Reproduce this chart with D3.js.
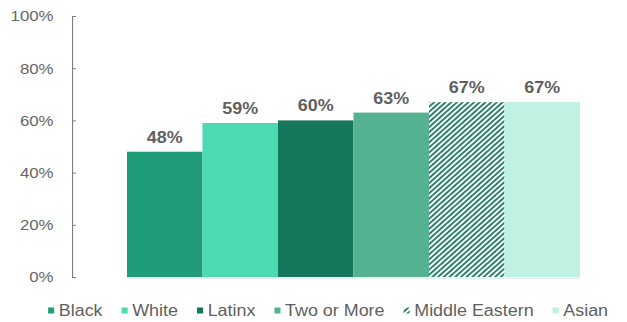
<!doctype html>
<html>
<head>
<meta charset="utf-8">
<style type="text/css">
  body { margin: 0; background: #fff; }
  svg { display: block; font-family: "Liberation Sans", Arial, sans-serif; }
</style>
</head>
<body>
<div id="my_dataviz"></div>

<script src="https://d3js.org/d3.v7.min.js"></script>
<script>
const groups = ["Black", "White", "Latinx", "Two or More", "Middle Eastern", "Asian"];
const values = [0.48, 0.59, 0.60, 0.63, 0.67, 0.67];
const colors = ["#1e9c7a", "#4cdab3", "#16775c", "#54b291", "url(#hatch)", "#bff2e3"];
const yTicks = [0, 0.2, 0.4, 0.6, 0.8, 1];

// the source picture is a little wider than tall, so draw in a narrower box and stretch it
var W = 560, H = 322;

var svg = d3.select("#my_dataviz")
  .append("svg")
  .attr("width", 627)
  .attr("height", H)
  .attr("viewBox", "0 0 " + W + " " + H)
  .attr("preserveAspectRatio", "none");

var defs = svg.append("defs");
var pat = defs.append("pattern")
  .attr("id", "hatch")
  .attr("patternUnits", "userSpaceOnUse")
  .attr("width", 3.6)
  .attr("height", 3.6)
  .attr("patternTransform", "rotate(45)");
pat.append("rect").attr("width", 3.6).attr("height", 3.6).attr("fill", "#fff");
pat.append("line")
  .attr("x1", 0.9).attr("y1", 0).attr("x2", 0.9).attr("y2", 3.6)
  .attr("stroke", "#1a7a5e")
  .attr("stroke-width", 1.7);

var x = d3.scaleBand()
  .domain(groups)
  .range([113.4, 518])
  .padding(0);

var y = d3.scaleLinear()
  .domain([0, 1])
  .range([277, 16]);

var color = d3.scaleOrdinal().domain(groups).range(colors);

// faint base line
svg.append("line")
  .attr("x1", x.range()[0]).attr("x2", x.range()[1])
  .attr("y1", y(0) + 1.5).attr("y2", y(0) + 1.5)
  .attr("stroke", "#e4efeb")
  .attr("stroke-width", 1.5);

// bars
svg.append("g")
  .selectAll("rect")
  .data(groups)
  .enter().append("rect")
    .attr("x", function(d) { return x(d); })
    .attr("y", function(d, i) { return y(values[i]); })
    .attr("width", x.bandwidth())
    .attr("height", function(d, i) { return y(0) - y(values[i]); })
    .attr("fill", function(d) { return color(d); });

// value labels
svg.append("g")
  .selectAll("text")
  .data(groups)
  .enter().append("text")
    .attr("x", function(d) { return x(d) + x.bandwidth() / 2; })
    .attr("y", function(d, i) { return y(values[i]) - 9; })
    .attr("text-anchor", "middle")
    .style("font-size", "16px")
    .style("font-weight", "bold")
    .style("fill", "#5f5f5f")
    .text(function(d, i) { return d3.format(".0%")(values[i]); });

// y axis, ticks point into the plot
var yAxis = svg.append("g")
  .attr("transform", "translate(64.3,0)")
  .call(d3.axisLeft(y)
    .tickValues(yTicks)
    .tickFormat(d3.format(".0%"))
    .tickSizeInner(-3.5)
    .tickSizeOuter(-3.5)
    .tickPadding(16.5));
yAxis.select(".domain").attr("stroke", "#7f7f7f");
yAxis.selectAll(".tick line").attr("stroke", "#7f7f7f");
yAxis.selectAll(".tick text")
  .style("font-family", "'Liberation Sans', Arial, sans-serif")
  .style("font-size", "15px")
  .style("fill", "#666");

// legend, laid out left to right
var legend = svg.append("g").attr("class", "legend");
var lx = 43;
groups.forEach(function(g, i) {
  var item = legend.append("g").attr("transform", "translate(" + lx + ",0)");
  item.append("rect")
    .attr("x", 0)
    .attr("y", 307.5)
    .attr("width", 5.4)
    .attr("height", 6)
    .attr("fill", colors[i]);
  var t = item.append("text")
    .attr("x", 9.5)
    .attr("y", 316)
    .style("font-size", "16px")
    .style("fill", "#5f5f5f")
    .text(g);
  lx += 9.5 + t.node().getComputedTextLength() + 17;
});
</script>
</body>
</html>
